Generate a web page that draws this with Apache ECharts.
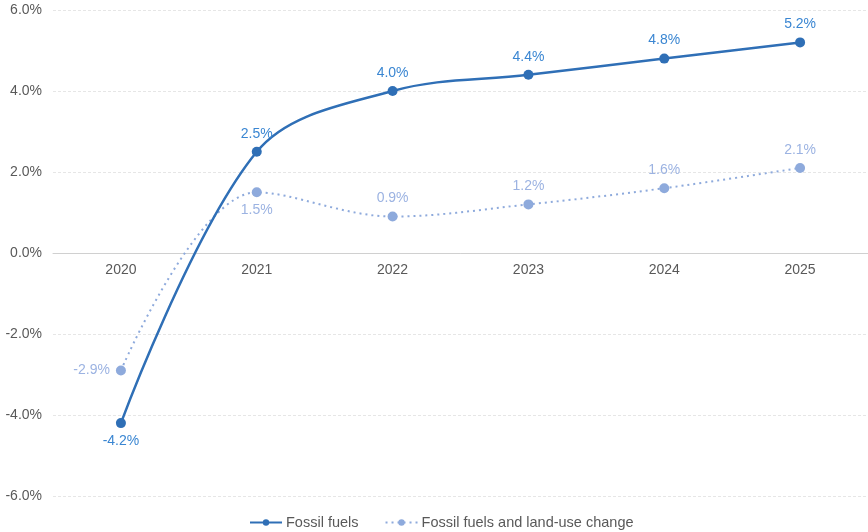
<!DOCTYPE html>
<html>
<head>
<meta charset="utf-8">
<script src="https://cdn.jsdelivr.net/npm/echarts@6/dist/echarts.min.js"></script>
<style>
  html, body { margin: 0; padding: 0; background: #fff; }
  #chart { width: 868px; height: 532px; }
</style>
</head>
<body>
<div id="chart"></div>
<script>
// Annual growth in emissions
const years = ['2020', '2021', '2022', '2023', '2024', '2025'];
const fossilFuels = [-4.2, 2.5, 4.0, 4.4, 4.8, 5.2];
const fossilAndLandUse = [-2.9, 1.5, 0.9, 1.2, 1.6, 2.1];
const fossilLabelPos = ['bottom', 'top', 'top', 'top', 'top', 'top'];
const landUseLabelPos = ['left', 'bottom', 'top', 'top', 'top', 'top'];

const fmt = v => v.toFixed(1) + '%';
const FONT = '"Liberation Sans", Arial, sans-serif';

function withLabels(values, positions) {
  return values.map((v, i) => ({ value: v, label: { position: positions[i] } }));
}

const chart = echarts.init(document.getElementById('chart'));
chart.setOption({
  animation: false,
  textStyle: { fontFamily: FONT },
  grid: { left: 53, right: -1, top: 10, bottom: 36, containLabel: false },
  legend: {
    bottom: -3,
    left: 244,
    itemWidth: 32,
    itemHeight: 8,
    itemGap: 26,
    textStyle: { fontFamily: FONT, fontSize: 14.5, color: '#595959', padding: [0, 0, 0, -1] },
    data: ['Fossil fuels', 'Fossil fuels and land-use change']
  },
  xAxis: {
    type: 'category',
    data: years,
    boundaryGap: true,
    axisLine: { onZero: true, lineStyle: { color: '#d0d0d0', width: 1 } },
    axisTick: { show: false },
    // category labels sit just under the zero line
    axisLabel: { color: '#595959', fontSize: 14, margin: -233, fontFamily: FONT }
  },
  yAxis: {
    type: 'value',
    min: -6,
    max: 6,
    interval: 2,
    axisLine: { show: false },
    axisTick: { show: false },
    axisLabel: { formatter: fmt, color: '#595959', fontSize: 14, margin: 11, fontFamily: FONT },
    splitLine: { lineStyle: { color: '#e6e6e6', type: [3, 2], width: 1 } }
  },
  series: [
    {
      name: 'Fossil fuels',
      type: 'line',
      smooth: 0.35,
      symbol: 'circle',
      symbolSize: 10,
      z: 3,
      lineStyle: { color: '#2f6fb6', width: 2.5 },
      itemStyle: { color: '#2f6fb6' },
      label: {
        show: true,
        formatter: p => fmt(p.value),
        color: '#3a86d2',
        fontSize: 14,
        distance: 6,
        fontFamily: FONT
      },
      data: withLabels(fossilFuels, fossilLabelPos)
    },
    {
      name: 'Fossil fuels and land-use change',
      type: 'line',
      smooth: 0.35,
      symbol: 'circle',
      symbolSize: 10,
      z: 2,
      lineStyle: { color: '#8eaadc', width: 2, type: [2, 4] },
      itemStyle: { color: '#8eaadc' },
      label: {
        show: true,
        formatter: p => fmt(p.value),
        color: '#9cb3e2',
        fontSize: 14,
        distance: 6,
        fontFamily: FONT
      },
      data: withLabels(fossilAndLandUse, landUseLabelPos)
    }
  ]
});
</script>
</body>
</html>
